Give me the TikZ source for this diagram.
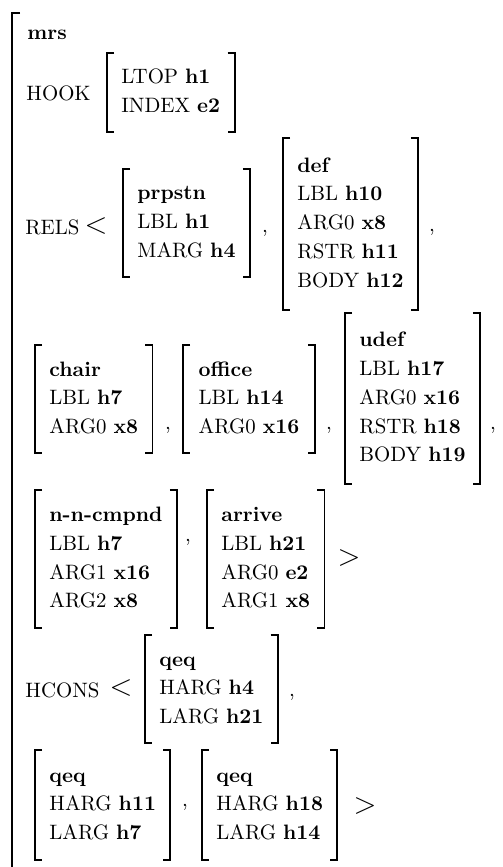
\documentclass[tikz,border=0pt]{standalone}
\usepackage{array}
\newcommand\avmrows[1]{\renewcommand\arraystretch{1.15}\begin{tabular}{@{}l@{}}#1\end{tabular}}
\begin{document}
\begin{tikzpicture}[x=0.48pt,y=-0.48pt,
  brk/.style={line width=0.9pt},
  avm/.style={inner xsep=6.72pt, inner ysep=0pt, anchor=west, minimum height=#1*0.48pt},
  lab/.style={anchor=base west, inner sep=0pt},
  sep/.style={anchor=center, inner sep=0pt},
  ang/.style={anchor=center, inner sep=0pt, font=\fontsize{15}{18}\selectfont}]
\useasboundingbox (0,0) rectangle (502,867);
% outer bracket
\coordinate (otop) at (12,13);
\coordinate (obot) at (12,880);
\draw[brk] ([xshift=3.84pt]otop) -- (otop) -- (obot);
% labels
\node[lab, font=\bfseries] (mrs) at (27,40) {mrs};
\node[lab] (hooklab) at (26,101) {HOOK};
\node[lab] (relslab) at (25,234) {RELS};
\node[lab] (hconslab) at (25,697) {HCONS};
% boxes
\node[avm=79] (hook) at (107,92.5) {\avmrows{LTOP \textbf{h1}\\ INDEX \textbf{e2}}};
\node[avm=108] (prpstn) at (123,223) {\avmrows{\textbf{prpstn}\\ LBL \textbf{h1}\\ MARG \textbf{h4}}};
\node[avm=172] (def) at (283,224) {\avmrows{\textbf{def}\\ LBL \textbf{h10}\\ ARG0 \textbf{x8}\\ RSTR \textbf{h11}\\ BODY \textbf{h12}}};
\node[avm=108] (chair) at (35,399) {\avmrows{\textbf{chair}\\ LBL \textbf{h7}\\ ARG0 \textbf{x8}}};
\node[avm=108, minimum width=63pt] (office) at (183,399) {\avmrows{\textbf{office}\\ LBL \textbf{h14}\\ ARG0 \textbf{x16}}};
\node[avm=171] (udef) at (345,398.5) {\avmrows{\textbf{udef}\\ LBL \textbf{h17}\\ ARG0 \textbf{x16}\\ RSTR \textbf{h18}\\ BODY \textbf{h19}}};
\node[avm=138] (nncmpnd) at (35,559) {\avmrows{\textbf{n-n-cmpnd}\\ LBL \textbf{h7}\\ ARG1 \textbf{x16}\\ ARG2 \textbf{x8}}};
\node[avm=138] (arrive) at (207,559) {\avmrows{\textbf{arrive}\\ LBL \textbf{h21}\\ ARG0 \textbf{e2}\\ ARG1 \textbf{x8}}};
\node[avm=108] (qeqa) at (145,689) {\avmrows{\textbf{qeq}\\ HARG \textbf{h4}\\ LARG \textbf{h21}}};
\node[avm=110] (qeqb) at (35,805) {\avmrows{\textbf{qeq}\\ HARG \textbf{h11}\\ LARG \textbf{h7}}};
\node[avm=110] (qeqc) at (202,805) {\avmrows{\textbf{qeq}\\ HARG \textbf{h18}\\ LARG \textbf{h14}}};
% brackets
\foreach \n in {hook,prpstn,def,chair,office,udef,nncmpnd,arrive,qeqa,qeqb,qeqc} {
  \draw[brk] ([xshift=3.4pt]\n.north west) -- (\n.north west) -- (\n.south west) -- ([xshift=3.4pt]\n.south west);
  \draw[brk] ([xshift=-3.4pt]\n.north east) -- (\n.north east) -- (\n.south east) -- ([xshift=-3.4pt]\n.south east);
}
% angle brackets
\node[ang] (rlt) at (96,226) {$<$};
\node[ang] (rgt) at (349,558) {$>$};
\node[ang] (hlt) at (121,688) {$<$};
\node[ang] (hgt) at (365,806) {$>$};
% commas
\node[sep] (c1) at (265,233) {,};
\node[sep] (c2) at (432,232) {,};
\node[sep] (c3) at (168,430) {,};
\node[sep] (c4) at (329,430) {,};
\node[sep] (c5) at (493,430) {,};
\node[sep] (c6) at (188,542) {,};
\node[sep] (c7) at (292,697) {,};
\node[sep] (c8) at (185,807) {,};
\end{tikzpicture}
\end{document}
